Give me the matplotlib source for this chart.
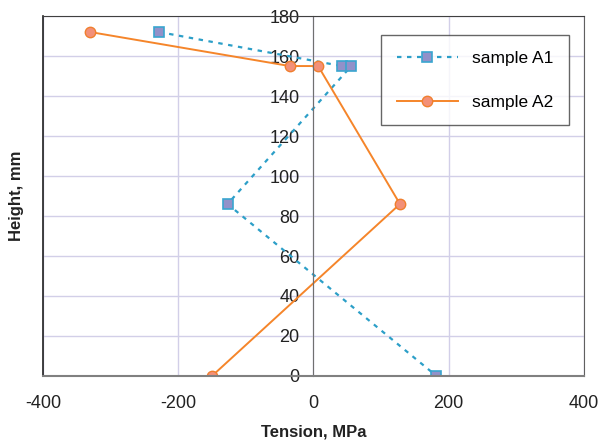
import matplotlib
matplotlib.use("Agg")
import matplotlib.pyplot as plt

plt.rcParams['font.family'] = ['Liberation Sans', 'DejaVu Sans']
plt.rcParams['axes.unicode_minus'] = False

# sample A1
a1_tension = [-228, 42, 56, -127, 182]
a1_height = [172, 155, 155, 86, 0]
# sample A2
a2_tension = [-330, -35, 7, 128, -150]
a2_height = [172, 155, 155, 86, 0]

x_ticks = [-400, -200, 0, 200, 400]
y_ticks = list(range(0, 181, 20))

fig = plt.figure(figsize=(6.01, 4.46), dpi=100)
ax = fig.add_axes([0.0715, 0.157, 0.9, 0.807])

ax.plot(a1_tension, a1_height, color="#2C9FC8", lw=1.6, ls=(0, (2, 2.5)),
        marker="s", ms=7.5, mfc="#9291C9", mec="#3AA5D0", mew=1.2, label="sample A1")
ax.plot(a2_tension, a2_height, color="#F5852A", lw=1.4, ls="-",
        marker="o", ms=7.5, mfc="#F39078", mec="#F07F2E", mew=1.0, label="sample A2")

ax.set_xlim(-400, 400)
ax.set_ylim(0, 180)
ax.set_xticks(x_ticks)
ax.set_yticks(y_ticks)
ax.grid(True, color="#D2CFE8", lw=1)
ax.set_axisbelow(True)

ax.spines['left'].set_position(('data', 0))
ax.spines['left'].set_color("#707070")
ax.spines['bottom'].set_color("#808080")
ax.spines['bottom'].set_linewidth(1.5)
ax.spines['top'].set_color("#404040")
ax.spines['right'].set_color("#606060")
ax.axvline(-400, color="#202020", lw=1.2, clip_on=False)

ax.tick_params(axis="both", length=0, labelsize=13, labelcolor="#222222")
ax.tick_params(axis="x", pad=14)
ax.tick_params(axis="y", pad=10)

ax.set_xlabel("Tension, MPa", fontsize=12, fontweight="bold", color="#222222", labelpad=9)
fig.text(0.028, 0.56, "Height, mm", rotation=90, fontsize=12, fontweight="bold",
         color="#222222", ha="center", va="center")

leg = ax.legend(loc="upper right", bbox_to_anchor=(0.972, 0.947), fontsize=12.5,
                frameon=True, fancybox=False, edgecolor="#404040", borderaxespad=0,
                borderpad=0.9, labelspacing=1.65, handlelength=3.5)
leg.get_frame().set_linewidth(1.0)

fig.savefig("out.png", dpi=100)
